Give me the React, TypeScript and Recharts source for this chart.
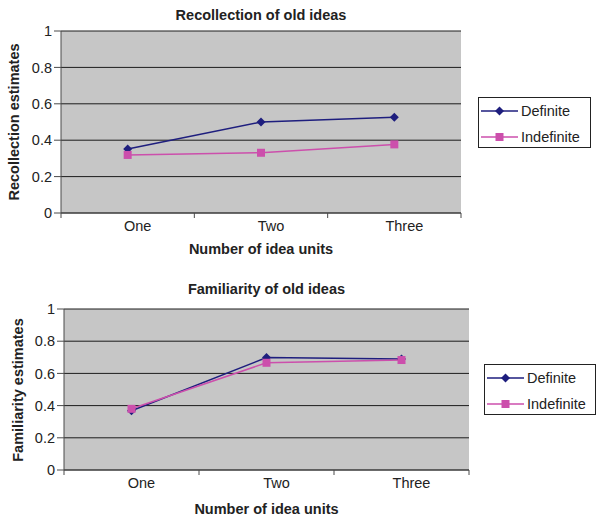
import React from 'react';
import { LineChart, Line, XAxis, YAxis, CartesianGrid } from 'recharts';

const ideaUnits = ['One', 'Two', 'Three'];
const yTicks = [0, 0.2, 0.4, 0.6, 0.8, 1];
const recollectionDefinite = [0.352, 0.5, 0.526];
const recollectionIndefinite = [0.319, 0.331, 0.377];
const familiarityDefinite = [0.368, 0.698, 0.69];
const familiarityIndefinite = [0.38, 0.666, 0.683];

const NAVY = '#1e1e7e';
const PINK = '#cc4fac';
const AXIS = '#4a4a4a';
const FONT = '"Liberation Sans", Arial, sans-serif';

const series = [
  { key: 'definite', name: 'Definite', color: NAVY, shape: 'diamond' },
  { key: 'indefinite', name: 'Indefinite', color: PINK, shape: 'square' },
];

const recollectionData = ideaUnits.map((u, i) => ({
  unit: u,
  definite: recollectionDefinite[i],
  indefinite: recollectionIndefinite[i],
}));
const familiarityData = ideaUnits.map((u, i) => ({
  unit: u,
  definite: familiarityDefinite[i],
  indefinite: familiarityIndefinite[i],
}));

const DiamondDot = (props: any) => {
  const { cx, cy, index } = props;
  if (cx == null || cy == null) return null;
  const r = 4.5;
  return (
    <path
      key={`dd-${index}`}
      d={`M${cx},${cy - r}L${cx + r},${cy}L${cx},${cy + r}L${cx - r},${cy}Z`}
      fill={NAVY}
    />
  );
};

const SquareDot = (props: any) => {
  const { cx, cy, index } = props;
  if (cx == null || cy == null) return null;
  return <rect key={`sd-${index}`} x={cx - 4} y={cy - 4} width={8} height={8} fill={PINK} />;
};

// tick marks sit between categories, labels are nudged right like in Excel
const CategoryTick = (props: any) => {
  const { x, y, payload, index, visibleTicksCount } = props;
  const half = payload.offset ?? 0;
  const axisY = y - 7;
  return (
    <g>
      <line x1={x - half} x2={x - half} y1={axisY} y2={axisY + 5} stroke={AXIS} />
      {index === visibleTicksCount - 1 && (
        <line x1={x + half} x2={x + half} y1={axisY} y2={axisY + 5} stroke={AXIS} />
      )}
      <text x={x + 10} y={axisY + 18} textAnchor="middle" fontSize={14.5} fontFamily={FONT} fill="#222">
        {payload.value}
      </text>
    </g>
  );
};

const yFormat = (v: number) => String(v);

const Panel = ({ data, top, height, margin }: any) => (
  <div style={{ position: 'absolute', left: 0, top }}>
    <LineChart width={606} height={height} data={data} margin={margin}>
      <CartesianGrid vertical={false} fill="#c6c6c6" stroke="#1c1c1c" />
      <XAxis
        dataKey="unit"
        scale="band"
        tickSize={5}
        tickMargin={2}
        height={30}
        tickLine={false}
        axisLine={{ stroke: AXIS }}
        tick={<CategoryTick />}
      />
      <XAxis xAxisId="top" dataKey="unit" orientation="top" height={0} tick={false} tickLine={false} axisLine={{ stroke: '#8a8a8a' }} />
      <YAxis
        domain={[0, 1]}
        ticks={yTicks}
        tickFormatter={yFormat}
        width={40}
        tickSize={7}
        tickMargin={2}
        axisLine={{ stroke: AXIS }}
        tickLine={{ stroke: AXIS }}
        tick={{ fontSize: 14.5, fontFamily: FONT, fill: '#222' }}
      />
      <YAxis yAxisId="right" orientation="right" domain={[0, 1]} width={0} tick={false} tickLine={false} axisLine={{ stroke: '#8a8a8a' }} />
      <Line dataKey="definite" stroke={NAVY} strokeWidth={1.5} dot={DiamondDot} activeDot={false} isAnimationActive={false} />
      <Line dataKey="indefinite" stroke={PINK} strokeWidth={1.5} dot={SquareDot} activeDot={false} isAnimationActive={false} />
    </LineChart>
  </div>
);

const boldText: React.CSSProperties = {
  position: 'absolute',
  fontFamily: FONT,
  fontWeight: 'bold',
  fontSize: 14.5,
  color: '#222',
  height: 20,
  lineHeight: '20px',
  textAlign: 'center',
  whiteSpace: 'nowrap',
};

const CenterLabel = ({ text, cx, cy }: any) => (
  <div style={{ ...boldText, left: cx - 200, top: cy - 10, width: 400 }}>{text}</div>
);

const RotatedLabel = ({ text, cx, cy }: any) => (
  <div style={{ ...boldText, left: cx - 100, top: cy - 10, width: 200, transform: 'rotate(-90deg)' }}>{text}</div>
);

const LegendBox = ({ left, top, width }: any) => (
  <div
    style={{
      position: 'absolute',
      left,
      top,
      width,
      height: 51,
      boxSizing: 'border-box',
      border: '1px solid #222',
      background: '#fff',
      fontFamily: FONT,
      fontSize: 14.5,
      color: '#222',
    }}
  >
    {series.map((s, i) => (
      <div key={s.key} style={{ position: 'absolute', left: 2, top: 3 + i * 26, height: 20, display: 'flex', alignItems: 'center' }}>
        <svg width={37} height={12} style={{ marginRight: 3 }}>
          <line x1={0} x2={37} y1={6} y2={6} stroke={s.color} strokeWidth={1.5} />
          {s.shape === 'diamond' ? (
            <path d="M18.5,1.5L23,6L18.5,10.5L14,6Z" fill={s.color} />
          ) : (
            <rect x={14.5} y={2} width={8} height={8} fill={s.color} />
          )}
        </svg>
        <span>{s.name}</span>
      </div>
    ))}
  </div>
);

export default function App() {
  return (
    <div style={{ position: 'absolute', left: 0, top: 0, width: 606, height: 523, background: '#fff' }}>
      <Panel data={recollectionData} top={0} height={262} margin={{ top: 31, right: 145, bottom: 19, left: 21 }} />
      <Panel data={familiarityData} top={262} height={261} margin={{ top: 47, right: 137, bottom: 23, left: 24 }} />

      <CenterLabel text="Recollection of old ideas" cx={261} cy={14.5} />
      <RotatedLabel text="Recollection estimates" cx={14} cy={122} />
      <CenterLabel text="Number of idea units" cx={261} cy={249} />
      <LegendBox left={478} top={97} width={113} />

      <CenterLabel text="Familiarity of old ideas" cx={266.5} cy={289} />
      <RotatedLabel text="Familiarity estimates" cx={17.5} cy={389.5} />
      <CenterLabel text="Number of idea units" cx={266.5} cy={509} />
      <LegendBox left={484} top={364} width={112} />
    </div>
  );
}
